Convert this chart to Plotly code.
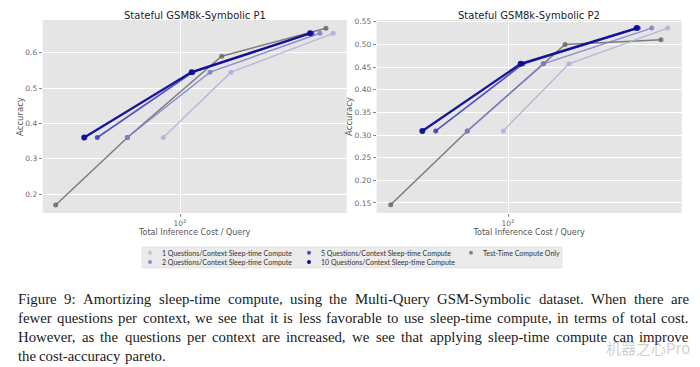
import plotly.graph_objects as go

W, H = 700, 367

# ---------------- data ----------------
series_names = [
    "1 Questions/Context Sleep-time Compute",
    "2 Questions/Context Sleep-time Compute",
    "5 Questions/Context Sleep-time Compute",
    "10 Questions/Context Sleep-time Compute",
    "Test-Time Compute Only",
]

# Panel P1
p1_cost_1q = [82.5, 179.9, 584]
p1_cost_2q = [54.5, 141.3, 501]
p1_cost_5q = [38.6, 116.1, 457]
p1_cost_10q = [33.2, 114.4, 447]
p1_acc_sleep = [0.36, 0.545, 0.655]
p1_cost_test = [23.9, 54.6, 161.6, 537]
p1_acc_test = [0.169, 0.36, 0.59, 0.669]

# Panel P2
p2_cost_1q = [94.7, 201.8, 629]
p2_cost_2q = [62.6, 150.2, 523]
p2_cost_5q = [43.5, 118.9, 448]
p2_cost_10q = [37.3, 115.7, 440]
p2_acc_sleep = [0.309, 0.457, 0.536]
p2_cost_test = [25.9, 62.6, 150.2, 192.8, 582]
p2_acc_test = [0.146, 0.309, 0.457, 0.50, 0.510]

panel_titles = ["Stateful GSM8k-Symbolic P1", "Stateful GSM8k-Symbolic P2"]
p1_yticks = [0.2, 0.3, 0.4, 0.5, 0.6]
p2_yticks = [0.15, 0.20, 0.25, 0.30, 0.35, 0.40, 0.45, 0.50, 0.55]
x_tickvals = [100]
x_ticktext = ["10<sup>2</sup>"]

caption_lines = [
    "Figure 9: Amortizing sleep-time compute, using the Multi-Query GSM-Symbolic dataset. When there are",
    "fewer questions per context, we see that it is less favorable to use sleep-time compute, in terms of total cost.",
    "However, as the questions per context are increased, we see that applying sleep-time compute can improve",
    "the cost-accuracy pareto.",
]

# ---------------- styles ----------------
line_colors = [
    "rgba(175,175,215,0.85)",
    "rgba(125,125,205,0.85)",
    "rgba(60,60,185,0.85)",
    "rgba(12,12,150,0.95)",
    "rgba(105,105,105,0.85)",
]
line_widths = [1.4, 1.4, 1.7, 2.3, 1.5]
legend_colors = ["#c4c4dc", "#8e8ed0", "#4d4dbb", "#10109a", "#858585"]


def px_x(x):
    return x / W


def px_y(y):
    return 1 - y / H


fig = go.Figure()

panels = [
    ("x", "y", [p1_cost_1q, p1_cost_2q, p1_cost_5q, p1_cost_10q], p1_acc_sleep, p1_cost_test, p1_acc_test),
    ("x2", "y2", [p2_cost_1q, p2_cost_2q, p2_cost_5q, p2_cost_10q], p2_acc_sleep, p2_cost_test, p2_acc_test),
]

for xa, ya, sleep_costs, sleep_acc, test_cost, test_acc in panels:
    fig.add_trace(go.Scatter(
        x=test_cost, y=test_acc, xaxis=xa, yaxis=ya, mode="lines+markers",
        line=dict(color=line_colors[4], width=line_widths[4]),
        marker=dict(size=5, color=line_colors[4]), showlegend=False, name=series_names[4]))
    for i, c in enumerate(sleep_costs):
        fig.add_trace(go.Scatter(
            x=c, y=sleep_acc, xaxis=xa, yaxis=ya, mode="lines+markers",
            line=dict(color=line_colors[i], width=line_widths[i]),
            marker=dict(size=5 if i < 3 else 6, color=line_colors[i]),
            showlegend=False, name=series_names[i]))

axis_font = dict(family="DejaVu Sans", size=7.5, color="#6a6a6a")
common_x = dict(type="log", tickvals=x_tickvals, ticktext=x_ticktext, showgrid=True,
                gridcolor="white", gridwidth=1, ticks="outside", ticklen=3, tickcolor="#888",
                tickfont=axis_font, zeroline=False, showline=False, automargin=False,
                title=dict(text="Total Inference Cost / Query", standoff=0,
                           font=dict(family="DejaVu Sans", size=8, color="#555")))
common_y = dict(showgrid=True, gridcolor="white", gridwidth=1, ticks="outside", ticklen=3,
                tickcolor="#888", tickfont=axis_font, zeroline=False, showline=False,
                automargin=False,
                title=dict(text="Accuracy", standoff=0,
                           font=dict(family="DejaVu Sans", size=8.5, color="#555")))

fig.update_layout(
    xaxis=dict(common_x, domain=[px_x(42.7), px_x(346.7)], range=[1.3135, 2.8335], anchor="y"),
    yaxis=dict(common_y, domain=[px_y(213), px_y(20)], range=[0.1462, 0.6926], anchor="x",
               tickvals=p1_yticks, ticktext=[f"{v:.1f}" for v in p1_yticks]),
    xaxis2=dict(common_x, domain=[px_x(376.7), px_x(681.7)], range=[1.3435, 2.8685], anchor="y2"),
    yaxis2=dict(common_y, domain=[px_y(213), px_y(20)], range=[0.1279, 0.5538], anchor="x2",
                tickvals=p2_yticks, ticktext=[f"{v:.2f}" for v in p2_yticks]),
)

annotations = []
shapes = []

# panel titles
for title, cx in zip(panel_titles, [194.7, 529.2]):
    annotations.append(dict(x=px_x(cx), y=px_y(16), xref="paper", yref="paper", text=title,
                            showarrow=False, xanchor="center", yanchor="middle",
                            font=dict(family="DejaVu Sans", size=10, color="#222")))

# legend box
shapes.append(dict(type="rect", xref="paper", yref="paper", x0=px_x(142), x1=px_x(562),
                   y0=px_y(268), y1=px_y(247), fillcolor="#ebebeb",
                   line=dict(color="#dcdcdc", width=0.6), layer="below"))
legend_pos = [(150, 252.7), (150, 262), (309, 252.7), (309, 262), (471, 252.7)]
for name, col, (mx, my) in zip(series_names, legend_colors, legend_pos):
    r = 2.0
    shapes.append(dict(type="circle", xref="paper", yref="paper",
                       x0=px_x(mx - r), x1=px_x(mx + r), y0=px_y(my + r), y1=px_y(my - r),
                       fillcolor=col, line=dict(width=0)))
    annotations.append(dict(x=px_x(mx + 10), y=px_y(my), xref="paper", yref="paper", text=name,
                            showarrow=False, xanchor="left", yanchor="middle",
                            font=dict(family="Lato", size=7, color="#333")))

# caption with justified lines (Times metrics, Liberation Serif is metric compatible)
TIMES = {' ': 250, '!': 333, ',': 250, '-': 333, '.': 250, '/': 278, ':': 278, ';': 278,
         '0': 500, '1': 500, '2': 500, '3': 500, '4': 500, '5': 500, '6': 500, '7': 500,
         '8': 500, '9': 500,
         'A': 722, 'B': 667, 'C': 667, 'D': 722, 'E': 611, 'F': 556, 'G': 722, 'H': 722,
         'I': 333, 'J': 389, 'K': 722, 'L': 611, 'M': 889, 'N': 722, 'O': 722, 'P': 556,
         'Q': 722, 'R': 667, 'S': 556, 'T': 611, 'U': 722, 'V': 722, 'W': 944, 'X': 722,
         'Y': 722, 'Z': 611,
         'a': 444, 'b': 500, 'c': 444, 'd': 500, 'e': 444, 'f': 333, 'g': 500, 'h': 500,
         'i': 278, 'j': 278, 'k': 500, 'l': 278, 'm': 778, 'n': 500, 'o': 500, 'p': 500,
         'q': 500, 'r': 333, 's': 389, 't': 278, 'u': 500, 'v': 500, 'w': 722, 'x': 500,
         'y': 500, 'z': 444}


def tw(s, size):
    return sum(TIMES.get(ch, 500) for ch in s) / 1000.0 * size


cap_size = 14.8
cap_x0, cap_x1 = 18, 689
cap_ys = [298.5, 317.5, 336.5, 355.5]
for k, (line, ly) in enumerate(zip(caption_lines, cap_ys)):
    words = line.split(" ")
    widths = [tw(w, cap_size) for w in words]
    justify = k < len(caption_lines) - 1
    gap = (cap_x1 - cap_x0 - sum(widths)) / (len(words) - 1) if justify else 0.25 * cap_size
    x = cap_x0
    for w, wd in zip(words, widths):
        annotations.append(dict(x=px_x(x + wd / 2), y=px_y(ly), xref="paper", yref="paper", text=w,
                                showarrow=False, xanchor="center", yanchor="middle", borderpad=0,
                                font=dict(family="Liberation Serif", size=cap_size, color="#1a1a1a")))
        x += wd + gap

# watermark
annotations.append(dict(x=px_x(648), y=px_y(347), xref="paper", yref="paper", text="机器之心Pro",
                        showarrow=False, xanchor="center", yanchor="middle",
                        font=dict(family="Noto Sans CJK SC", size=15, color="rgba(160,160,160,0.5)")))

fig.update_layout(
    width=W, height=H, margin=dict(l=0, r=0, t=0, b=0),
    paper_bgcolor="white", plot_bgcolor="#e5e5e5",
    showlegend=False, annotations=annotations, shapes=shapes,
)

fig.write_html("out.html", config={"displayModeBar": False},
               post_script="document.body.style.margin='0';document.body.style.overflow='hidden';")
